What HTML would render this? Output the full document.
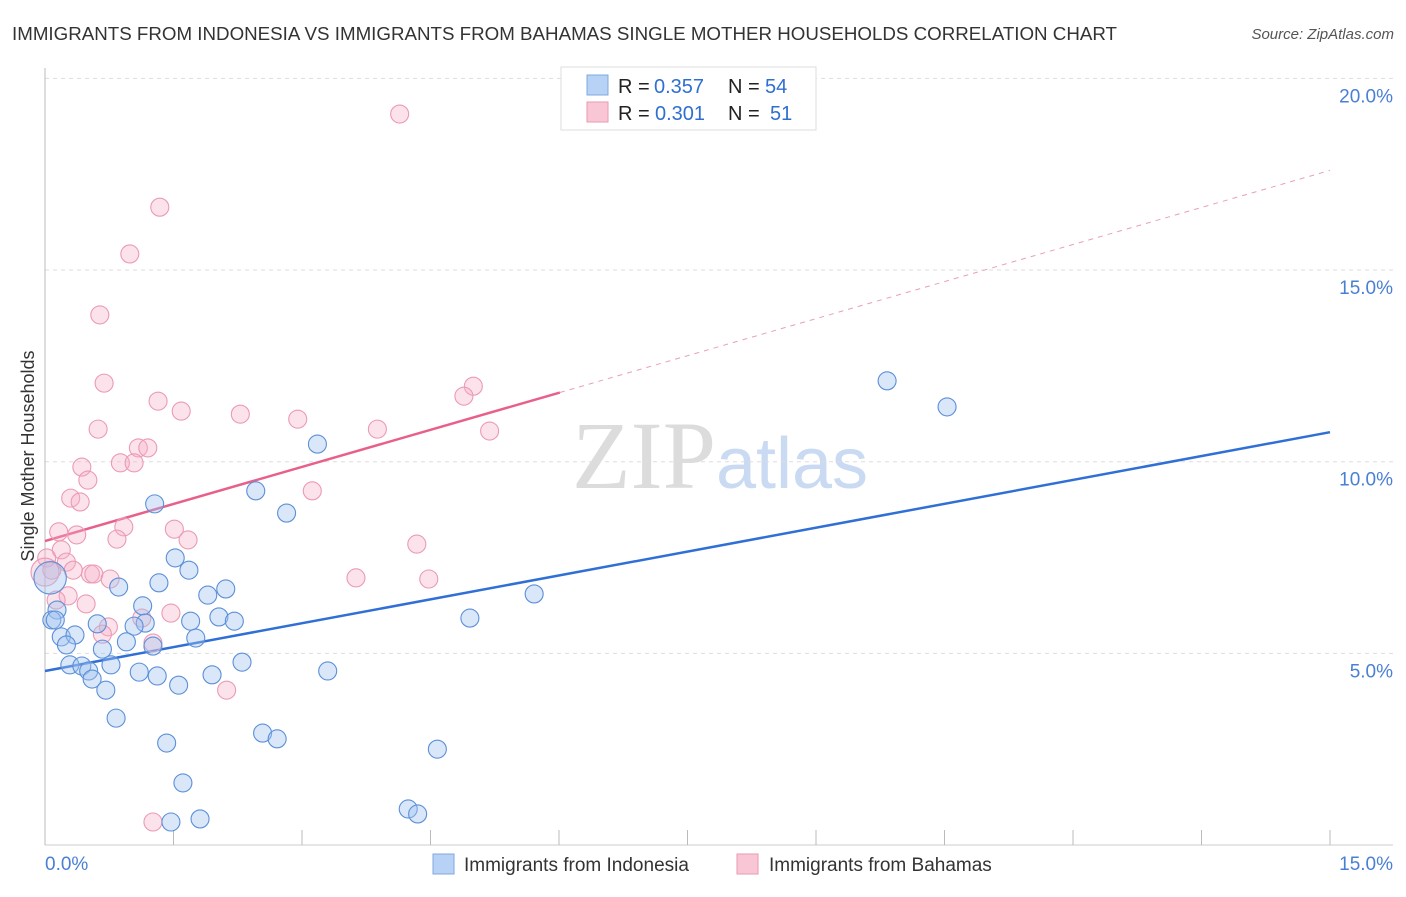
<!DOCTYPE html>
<html><head><meta charset="utf-8"><style>
body{margin:0;background:#fff;font-family:"Liberation Sans",sans-serif;}
</style></head><body>
<svg id="chart" width="1406" height="892" xmlns="http://www.w3.org/2000/svg" font-family="Liberation Sans, sans-serif">
<text x="12" y="40" font-size="18" fill="#333" textLength="1105" lengthAdjust="spacingAndGlyphs">IMMIGRANTS FROM INDONESIA VS IMMIGRANTS FROM BAHAMAS SINGLE MOTHER HOUSEHOLDS CORRELATION CHART</text>
<text x="1394" y="39" font-size="15" fill="#555" font-style="italic" text-anchor="end">Source: ZipAtlas.com</text>
<text x="720" y="488" font-size="96" text-anchor="middle"><tspan fill="#dcdcdc" font-family="Liberation Serif, serif">ZIP</tspan><tspan fill="#c9daf2" font-size="72">atlas</tspan></text>
<text transform="translate(34,456) rotate(-90)" font-size="18" fill="#333" text-anchor="middle">Single Mother Households</text>
<g id="grid"></g><g id="axes"></g><g id="trend"></g><g id="pts"></g>
<g>
<rect x="561" y="67" width="255" height="63" fill="#fff" stroke="#ddd"/>
<rect x="587" y="75" width="21" height="20" fill="#b8d2f5" stroke="#7ea8e0"/>
<rect x="587" y="102" width="21" height="20" fill="#f8c6d4" stroke="#ea9ab2"/>
<text x="618" y="93" font-size="20" fill="#222">R =</text>
<text x="654" y="93" font-size="20" fill="#2f6fd1">0.357</text>
<text x="728" y="93" font-size="20" fill="#222">N =</text>
<text x="765" y="93" font-size="20" fill="#2f6fd1">54</text>
<text x="618" y="120" font-size="20" fill="#222">R =</text>
<text x="655" y="120" font-size="20" fill="#2f6fd1">0.301</text>
<text x="728" y="120" font-size="20" fill="#222">N =</text>
<text x="770" y="120" font-size="20" fill="#2f6fd1">51</text>
</g>
<g>
<rect x="433" y="854" width="21" height="20" fill="#b8d2f5" stroke="#7ea8e0"/>
<text x="464" y="871" font-size="19" fill="#333">Immigrants from Indonesia</text>
<rect x="737" y="854" width="21" height="20" fill="#f8c6d4" stroke="#ea9ab2"/>
<text x="769" y="871" font-size="19" fill="#333">Immigrants from Bahamas</text>
</g>
</svg>
<script>
const yTicks=[5,10,15,20];
const yTickLabels=["5.0%","10.0%","15.0%","20.0%"];
const xTickLabels=["0.0%","15.0%"];
const blueX=[1.28,3.18,2.46,2.82,1.52,1.68,1.33,0.86,2.11,1.90,1.14,0.14,0.08,2.03,2.21,1.70,0.61,1.17,1.04,0.19,0.35,1.76,0.95,0.25,1.26,0.67,2.30,0.29,0.43,0.77,0.51,1.10,3.30,1.31,1.95,0.55,1.56,0.71,0.83,2.54,2.71,1.42,4.58,1.61,4.24,4.35,1.81,1.47,9.83,10.53,4.96,5.71,0.06,0.12];
const blueY=[8.90,10.46,9.24,8.66,7.49,7.17,6.84,6.73,6.68,6.52,6.24,6.13,5.87,5.95,5.84,5.84,5.77,5.79,5.71,5.43,5.48,5.40,5.30,5.22,5.19,5.11,4.77,4.70,4.67,4.70,4.54,4.51,4.54,4.41,4.44,4.33,4.17,4.04,3.31,2.92,2.77,2.66,2.50,1.62,0.94,0.81,0.68,0.60,12.11,11.43,5.92,6.55,6.97,5.87];
const blueSize=[1,1,1,1,1,1,1,1,1,1,1,1,1,1,1,1,1,1,1,1,1,1,1,1,1,1,1,1,1,1,1,1,1,1,1,1,1,1,1,1,1,1,1,1,1,1,1,1,1,1,1,1,1.8,1];
const pinkX=[4.14,1.34,0.99,0.64,0.69,1.32,1.59,2.28,2.95,3.88,5.00,4.89,5.19,0.62,1.09,1.20,0.43,0.88,1.04,0.50,0.30,0.41,3.12,0.92,1.51,0.16,0.37,0.84,1.67,4.34,0.19,0.02,0.25,0.08,0.53,0.57,0.76,0.33,3.63,4.48,0.27,0.13,0.48,1.13,1.47,0.74,0.67,1.26,2.12,1.26,0.00];
const pinkY=[19.07,16.64,15.42,13.83,12.05,11.58,11.32,11.24,11.11,10.85,11.97,11.71,10.80,10.85,10.36,10.36,9.86,9.97,9.97,9.52,9.05,8.95,9.24,8.30,8.24,8.17,8.09,7.98,7.96,7.85,7.70,7.49,7.38,7.17,7.07,7.07,6.94,7.17,6.97,6.94,6.50,6.39,6.29,5.92,6.05,5.69,5.50,5.27,4.04,0.60,7.12];
const blueTrend=[4.54,10.77];
const pinkTrend=[7.93,17.6];
const pinkSolidEnd=6.01;
const NS="http://www.w3.org/2000/svg";
const sx=v=>45+v/15*1285, sy=v=>845-v*38.33;
function mk(tag,attrs,parent){const e=document.createElementNS(NS,tag);for(const k in attrs)e.setAttribute(k,attrs[k]);document.getElementById(parent).appendChild(e);return e;}
yTicks.forEach((t,i)=>{
 const g=mk('line',{x1:45,x2:1393,y1:sy(t),y2:sy(t),stroke:'#ddd','stroke-dasharray':'4,4'},'grid');
 
 
 const tx=mk('text',{x:1393,y:sy(t)+24,'font-size':19,fill:'#4a7fd4','text-anchor':'end'},'grid');
 tx.textContent=yTickLabels[i];
 
 
});
const ax=mk('line',{x1:45,x2:45,y1:68,y2:845,stroke:'#bbb'},'axes');


const bx=mk('line',{x1:45,x2:1393,y1:845,y2:845,stroke:'#ccc'},'axes');


for(let i=0;i<=10;i++){const v=i*1.5;
 const t=mk('line',{x1:sx(v),x2:sx(v),y1:830,y2:845,stroke:'#bbb'},'axes');
 
 }
[[0,'start'],[15,'end']].forEach((p,i)=>{
 const t=mk('text',{x:i?1393:45,y:870,'font-size':19,fill:'#4a7fd4','text-anchor':p[1]},'axes');
 t.textContent=xTickLabels[i];
 
 });
const lerp=(a,x)=>a[0]+(a[1]-a[0])*x/15;
const bl=mk('line',{x1:sx(0),y1:sy(blueTrend[0]),x2:sx(15),y2:sy(blueTrend[1]),stroke:'#2f6fd6','stroke-width':2.5},'trend');


const pl=mk('line',{x1:sx(0),y1:sy(pinkTrend[0]),x2:sx(pinkSolidEnd),y2:sy(lerp(pinkTrend,pinkSolidEnd)),stroke:'#e8608a','stroke-width':2.5},'trend');


const pd=mk('line',{x1:sx(pinkSolidEnd),y1:sy(lerp(pinkTrend,pinkSolidEnd)),x2:sx(15),y2:sy(pinkTrend[1]),stroke:'#e8a0b6','stroke-width':1,'stroke-dasharray':'5,5'},'trend');


pinkX.forEach((x,i)=>{
 const c=mk('circle',{cx:sx(x),cy:sy(pinkY[i]),r:i==pinkX.length-1?14:9,fill:'rgba(246,176,198,0.35)',stroke:'#eb9ab3','stroke-width':1.1},'pts');
 
 });
blueX.forEach((x,i)=>{
 const c=mk('circle',{cx:sx(x),cy:sy(blueY[i]),r:9*blueSize[i],fill:'rgba(160,196,240,0.4)',stroke:'#5b8fd9','stroke-width':1.1},'pts');
 
 });
</script>
</body></html>
